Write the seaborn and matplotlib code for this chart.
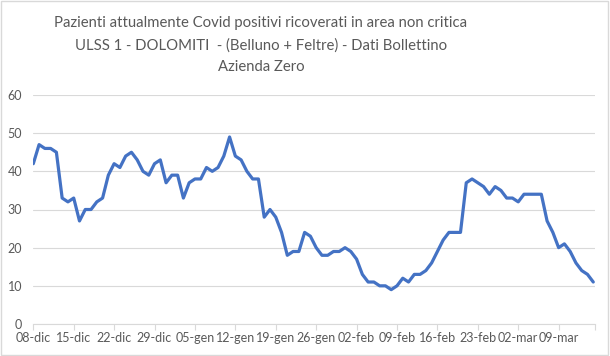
import matplotlib
matplotlib.use("Agg")
import matplotlib.pyplot as plt
import seaborn as sns
import pandas as pd
from matplotlib.patches import Rectangle

# ricoverati in area non critica, un valore al giorno dal 08-dic al 15-mar
ricoverati = [42, 47, 46, 46, 45, 33, 32, 33, 27, 30,
              30, 32, 33, 39, 42, 41, 44, 45, 43, 40,
              39, 42, 43, 37, 39, 39, 33, 37, 38, 38,
              41, 40, 41, 44, 49, 44, 43, 40, 38, 38,
              28, 30, 28, 24, 18, 19, 19, 24, 23, 20,
              18, 18, 19, 19, 20, 19, 17, 13, 11, 11,
              10, 10, 9, 10, 12, 11, 13, 13, 14, 16,
              19, 22, 24, 24, 24, 37, 38, 37, 36, 34,
              36, 35, 33, 33, 32, 34, 34, 34, 34, 27,
              24, 20, 21, 19, 16, 14, 13, 11]
tick_labels = ["08-dic", "15-dic", "22-dic", "29-dic", "05-gen", "12-gen", "19-gen",
               "26-gen", "02-feb", "09-feb", "16-feb", "23-feb", "02-mar", "09-mar"]
y_ticks = [0, 10, 20, 30, 40, 50, 60]

titolo = ("Pazienti attualmente Covid positivi ricoverati in area non critica\n"
          "ULSS 1 - DOLOMITI  - (Belluno + Feltre) - Dati Bollettino\n"
          "Azienda Zero")

df = pd.DataFrame({"giorno": range(len(ricoverati)), "ricoverati": ricoverati})

sns.set_style("white")
plt.rcParams["font.family"] = ["Lato", "DejaVu Sans"]

fig = plt.figure(figsize=(6.1, 3.56), dpi=100)
ax = fig.add_axes([33.3 / 610, 1 - 324 / 356, (595 - 33.3) / 610, (324 - 95) / 356])

sns.lineplot(data=df, x="giorno", y="ricoverati", ax=ax, color="#4472C4", linewidth=2.3)

ax.set_xlim(0, 97.3)
ax.set_ylim(0, 60)
ax.set_yticks(y_ticks)
ax.set_yticklabels([str(v) for v in y_ticks])
xt = [7 * i for i in range(len(tick_labels))] + [97.3]
ax.set_xticks(xt)
ax.set_xticklabels(tick_labels + [""])
ax.set_xlabel("")
ax.set_ylabel("")

ax.grid(True, axis="y", color="#d9d9d9", linewidth=0.8)
ax.grid(False, axis="x")
for s in ["top", "right", "left"]:
    ax.spines[s].set_visible(False)
ax.spines["bottom"].set_color("#d9d9d9")
ax.spines["bottom"].set_linewidth(0.8)
ax.tick_params(axis="y", length=0, pad=8, labelsize=9, labelcolor="#595959")
ax.tick_params(axis="x", length=4, width=0.8, color="#d9d9d9", pad=2, labelsize=9,
               labelcolor="#595959", bottom=True)

fig.text(261 / 610, 1 - 16 / 356, titolo, ha="center", va="top", fontsize=10.7,
         color="#595959", linespacing=1.7)

# bordo grigio del grafico
fig.patches.append(Rectangle((0.002, 0.004), 0.994, 0.992, transform=fig.transFigure,
                             fill=False, edgecolor="#d9d9d9", linewidth=1))

fig.savefig("out.png", dpi=100)
